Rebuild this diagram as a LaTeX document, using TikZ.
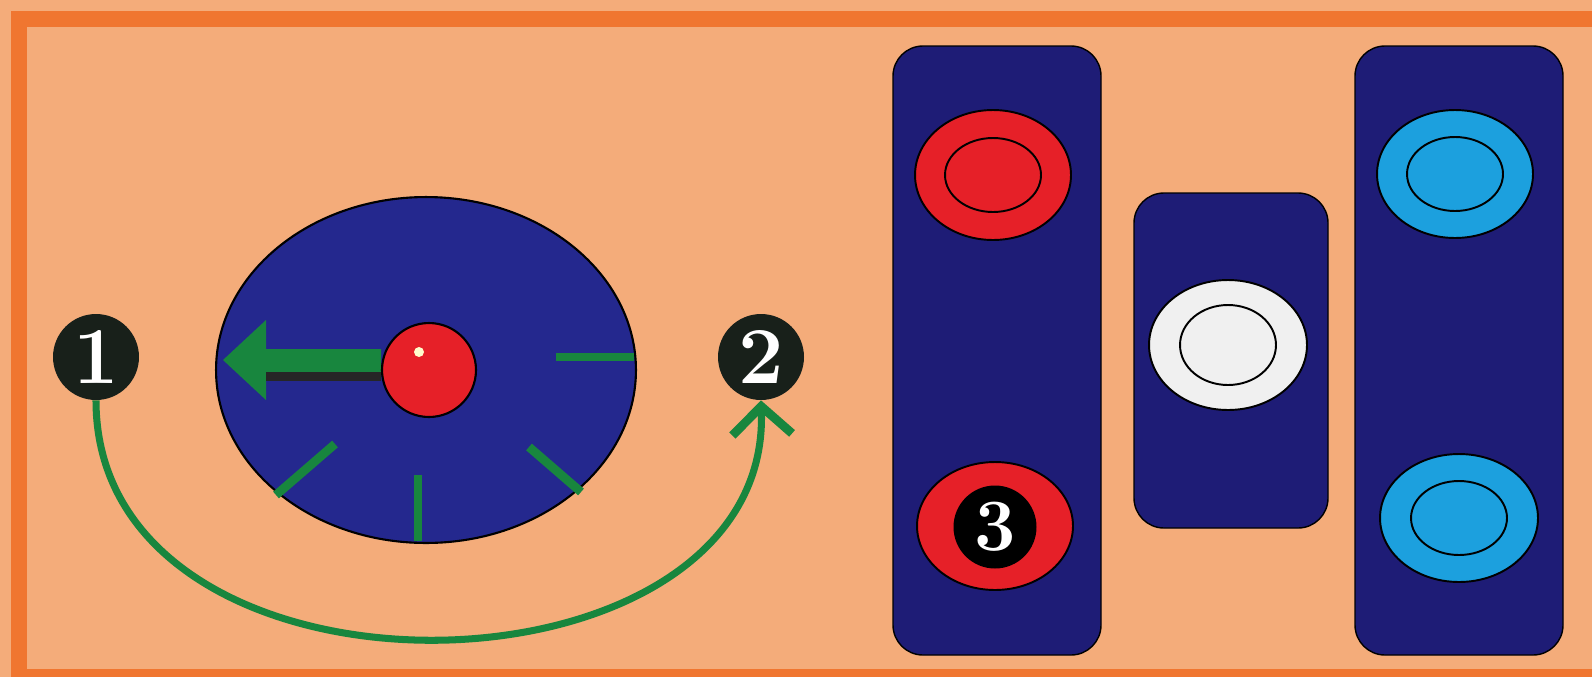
\documentclass[tikz,border=0pt]{standalone}
\usetikzlibrary{arrows.meta}
\definecolor{peach}{RGB}{244,172,122}
\definecolor{bord}{RGB}{240,118,48}
\definecolor{grn}{RGB}{24,134,62}
\definecolor{ellblue}{RGB}{36,40,142}
\definecolor{navy}{RGB}{30,28,118}
\definecolor{dred}{RGB}{230,32,40}
\definecolor{cyanb}{RGB}{28,160,222}
\definecolor{offw}{RGB}{240,240,240}
\definecolor{nblack}{RGB}{24,32,26}
\tikzset{
  numnode/.style={circle, fill=nblack, text=white, minimum size=1.72cm, inner sep=0pt,
    font=\fontsize{46}{48}\selectfont\bfseries},
  panel/.style={fill=navy, draw=black, line width=0.8pt, rounded corners=0.6cm},
  disc/.style={draw=black, line width=1.1pt},
  tick/.style={draw=grn, line width=5pt},
  curve/.style={draw=grn, line width=4pt},
}
\begin{document}
\begin{tikzpicture}[x=0.02cm,y=-0.02cm]
\useasboundingbox (0,0) rectangle (1592,677);
\fill[peach] (0,0) rectangle (1592,677);
% border
\fill[bord] (11,11) rectangle (1592,27);
\fill[bord] (11,11) rectangle (27,677);
\fill[bord] (11,669) rectangle (1592,677);
% big ellipse
\filldraw[fill=ellblue, draw=black, line width=1.2pt] (426,370) ellipse [x radius=4.2cm, y radius=3.46cm];
% ticks
\draw[tick] (556,357) -- (634,357);
\draw[tick] (335,444) -- (276,495);
\draw[tick] (418,475) -- (418,541);
\draw[tick] (529,447) -- (581,492);
% green arrow with shadow
\fill[grn] (381,349) -- (266,349) -- (266,320) -- (223,360) -- (266,400) -- (266,373) -- (381,373) -- cycle;
\fill[black!85] (266,372) rectangle (381,381);
% red ball
\filldraw[fill=dred, draw=black, line width=1.2pt] (429,370) circle [radius=0.94cm];
\fill[white!80!yellow] (419,352) circle [radius=0.1cm];
% number nodes
\node[numnode] (n1) at (96,357) {1};
\node[numnode] (n2) at (761,357) {2};
\draw[curve, -{Straight Barb[length=16pt,width=34pt,line width=5pt]}] (n1.south) .. controls (96,725) and (772,712) .. (n2.south);
% panels
\draw[panel] (893,46) rectangle (1101,655);
\draw[panel] (1134,193) rectangle (1328,528);
\draw[panel] (1355,46) rectangle (1563,655);
% discs
\filldraw[disc, fill=dred] (993,175) ellipse [x radius=1.56cm, y radius=1.3cm];
\draw[disc] (993,175) ellipse [x radius=0.96cm, y radius=0.74cm];
\filldraw[disc, fill=dred] (995,526) ellipse [x radius=1.56cm, y radius=1.28cm];
\node[circle, fill=black, minimum size=1.66cm, inner sep=0pt, text=white,
  font=\fontsize{42}{44}\selectfont\bfseries] (n3) at (995,527) {3};
\filldraw[disc, fill=offw] (1228,345) ellipse [x radius=1.58cm, y radius=1.3cm];
\draw[disc] (1228,345) ellipse [x radius=0.96cm, y radius=0.8cm];
\filldraw[disc, fill=cyanb] (1455,174) ellipse [x radius=1.56cm, y radius=1.28cm];
\draw[disc] (1455,174) ellipse [x radius=0.96cm, y radius=0.74cm];
\filldraw[disc, fill=cyanb] (1459,518) ellipse [x radius=1.58cm, y radius=1.28cm];
\draw[disc] (1459,518) ellipse [x radius=0.96cm, y radius=0.74cm];
\end{tikzpicture}
\end{document}
